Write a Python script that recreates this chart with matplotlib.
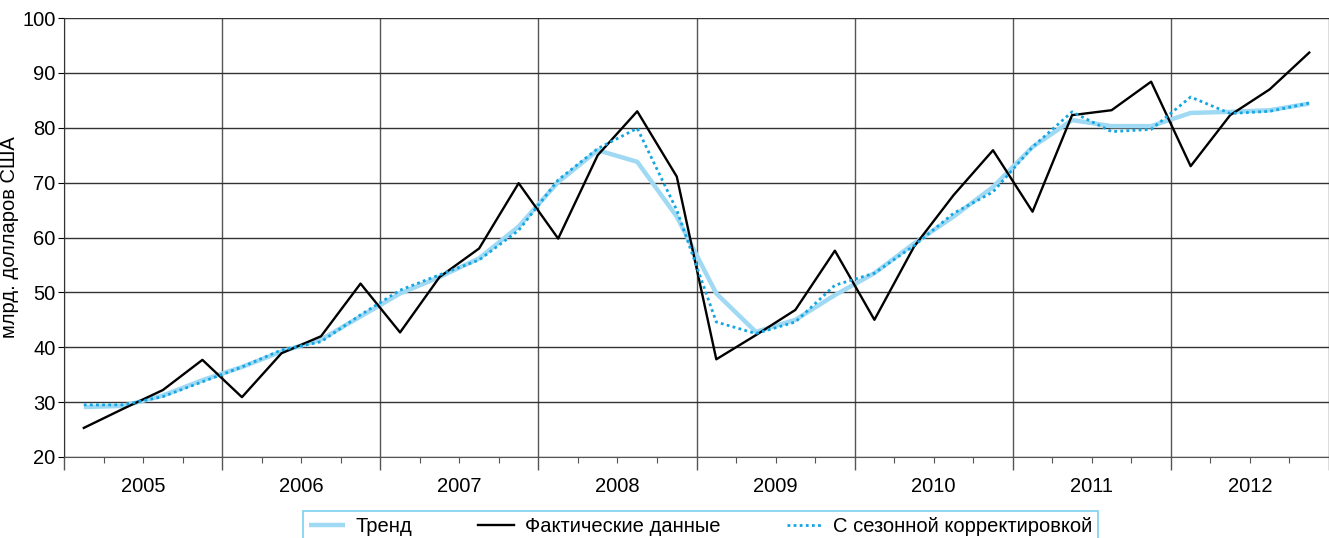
import numpy as np
import matplotlib
matplotlib.use("Agg")
import matplotlib.pyplot as plt

# quarterly values, 2005Q1 .. 2012Q4
years = ["2005", "2006", "2007", "2008", "2009", "2010", "2011", "2012"]
actual = [25.3, 28.8, 32.2, 37.7, 30.9, 38.9, 42.0, 51.6,
          42.7, 52.8, 58.0, 69.9, 59.8, 75.0, 83.0, 71.1,
          37.8, 42.2, 46.8, 57.6, 45.0, 58.3, 67.7, 75.9,
          64.7, 82.3, 83.2, 88.4, 73.0, 82.3, 87.0, 93.7]
trend = [29.1, 29.3, 31.2, 34.0, 36.4, 39.2, 41.4, 45.6,
         49.8, 52.8, 56.2, 62.0, 70.1, 75.9, 73.8, 63.8,
         49.8, 42.8, 45.0, 49.5, 53.5, 58.9, 63.8, 69.2,
         76.5, 81.4, 80.3, 80.3, 82.7, 82.9, 83.2, 84.4]
seasonal = [29.5, 29.5, 31.0, 33.7, 36.4, 39.5, 41.0, 45.9,
            50.4, 53.2, 55.9, 61.3, 70.5, 76.2, 79.9, 65.0,
            44.6, 42.5, 44.6, 51.3, 53.5, 58.5, 64.4, 68.3,
            76.5, 82.9, 79.3, 79.7, 85.6, 82.6, 83.0, 84.5]
labels = ["Тренд", "Фактические данные", "С сезонной корректировкой"]

plt.rcParams["font.family"] = ["Liberation Sans", "DejaVu Sans"]

fig = plt.figure(figsize=(13.29, 5.38), dpi=100)
ax = fig.add_axes([0.0482, 0.1506, 0.9518, 0.8159])

x = np.arange(len(actual))
ax.plot(x, trend, color="#9fd9f3", lw=3.2, solid_capstyle="butt", label=labels[0], zorder=3)
ax.plot(x, actual, color="black", lw=1.7, label=labels[1], zorder=4)
ax.plot(x, seasonal, color="#14a5e3", lw=2.0, ls=(0, (1, 1.2)), label=labels[2], zorder=5)

ax.set_ylim(20, 100)
ax.set_yticks(range(20, 101, 10))
ax.set_xlim(-0.5, 31.32)

bounds = np.arange(-0.5, 32, 4)
ax.set_xticks(bounds)
ax.set_xticklabels([])
ax.set_xticks([b for b in np.arange(-0.5, 32, 1) if (b + 0.5) % 4], minor=True)
ax.tick_params(axis="x", which="major", length=9, width=1, color="#555555")
ax.tick_params(axis="x", which="minor", length=4, width=0.8, color="#555555")
ax.tick_params(axis="y", length=4, labelsize=14.5, pad=2)

for i, yr in enumerate(years):
    ax.text(i * 4 + 1.5, -0.068, yr, transform=ax.get_xaxis_transform(),
            ha="center", va="center", fontsize=14.5)

ax.grid(axis="y", color="#333333", lw=1.0)
ax.grid(axis="x", which="major", color="#555555", lw=1.0)
ax.set_axisbelow(True)
for s in ["top", "right"]:
    ax.spines[s].set_visible(False)
ax.spines["left"].set_color("#333333")
ax.spines["bottom"].set_color("#555555")

ax.set_ylabel("млрд. долларов США", fontsize=14.5)
ax.yaxis.set_label_coords(-0.036, 0.5)

leg = fig.legend(loc="upper center", bbox_to_anchor=(0.527, 1 - 501 / 538), ncol=3,
                 fontsize=14.5, frameon=True, fancybox=False, borderpad=0.3,
                 handlelength=1.8, columnspacing=3.3, handletextpad=0.5)
leg.get_frame().set_edgecolor("#5cc4ec")
leg.get_frame().set_linewidth(1.2)

fig.savefig("out.png", dpi=100)
